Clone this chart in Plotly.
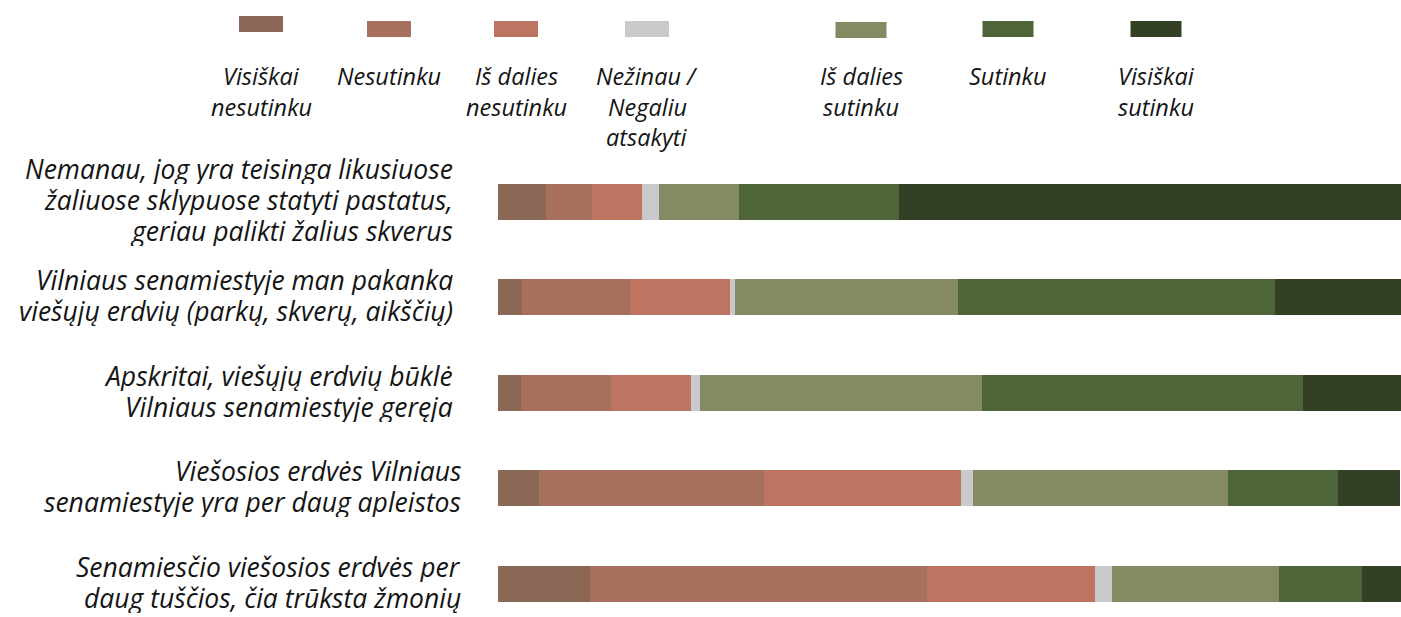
import plotly.graph_objects as go

# ---------------- data ----------------
categories = [
    "Nemanau, jog yra teisinga likusiuose<br>žaliuose sklypuose statyti pastatus,<br>geriau palikti žalius skverus",
    "Vilniaus senamiestyje man pakanka<br>viešųjų erdvių (parkų, skverų, aikščių)",
    "Apskritai, viešųjų erdvių būklė<br>Vilniaus senamiestyje geręja",
    "Viešosios erdvės Vilniaus<br>senamiestyje yra per daug apleistos",
    "Senamiesčio viešosios erdvės per<br>daug tuščios, čia trūksta žmonių",
]
series_names = [
    "Visiškai<br>nesutinku",
    "Nesutinku",
    "Iš dalies<br>nesutinku",
    "Nežinau /<br>Negaliu<br>atsakyti",
    "Iš dalies<br>sutinku",
    "Sutinku",
    "Visiškai<br>sutinku",
]
visiskai_nesutinku = [5.3, 2.7, 2.6, 4.5, 10.2]
nesutinku = [5.1, 11.9, 9.9, 25.0, 37.3]
is_dalies_nesutinku = [5.6, 11.1, 8.9, 21.8, 18.6]
nezinau = [1.8, 0.6, 1.0, 1.3, 1.9]
is_dalies_sutinku = [8.9, 24.6, 31.2, 28.2, 18.5]
sutinku = [17.7, 35.1, 35.6, 12.2, 9.2]
visiskai_sutinku = [55.7, 14.1, 10.9, 6.9, 4.4]

series_values = [visiskai_nesutinku, nesutinku, is_dalies_nesutinku, nezinau,
                 is_dalies_sutinku, sutinku, visiskai_sutinku]

# ---------------- style / layout ----------------
colors = ["#8B6756", "#A6705C", "#BD7561", "#C8C9CB", "#848A62", "#4D6538", "#334026"]
FONT = "Open Sans"
TEXT_COLOR = "#141414"
FS_LEGEND = 23.5
FS_LABEL = 26.5

W, H = 1401, 617
M_L, M_R, M_T, M_B = 498, 0, 154, 0
plot_w = W - M_L - M_R
plot_h = H - M_T - M_B


def px_x(px):
    return (px - M_L) / plot_w


def px_y(py):
    return (H - M_B - py) / plot_h


fig = go.Figure()
for name, vals, col in zip(series_names, series_values, colors):
    fig.add_trace(go.Bar(
        y=categories, x=vals, name=name.replace("<br>", " "), orientation="h",
        marker=dict(color=col, line=dict(width=0)),
        width=0.377, showlegend=False, hoverinfo="x+name",
    ))

annotations = []
shapes = []

# custom legend: swatch above centered label lines
legend_cx = [261, 389, 516, 647, 861, 1008, 1156]
legend_sw_top = [16, 21, 21, 21, 22, 21, 21]
legend_sw_w = [44, 44, 44, 44, 51, 51, 51]
legend_line_y = [75, 106, 137]
LEG_SP = 31
for name, col, cx, st, sw in zip(series_names, colors, legend_cx, legend_sw_top, legend_sw_w):
    shapes.append(dict(type="rect", xref="paper", yref="paper",
                       x0=px_x(cx - sw / 2), x1=px_x(cx + sw / 2),
                       y0=px_y(st + 16), y1=px_y(st),
                       fillcolor=col, line=dict(width=0), layer="above"))
    for i, line in enumerate(name.split("<br>")):
        annotations.append(dict(
            xref="paper", yref="paper", x=px_x(cx), y=px_y(legend_line_y[i]),
            xanchor="center", yanchor="middle", showarrow=False, text=line,
            height=LEG_SP, valign="middle",
            font=dict(family=FONT, size=FS_LEGEND, color=TEXT_COLOR, style="italic"),
        ))

# category labels, one annotation per line for matching line spacing
label_right = [455, 455, 455, 463, 463]
LINE_SP = 31
for cat, rx in zip(categories, label_right):
    lines = cat.split("<br>")
    n = len(lines)
    for i, line in enumerate(lines):
        annotations.append(dict(
            xref="paper", yref="y", x=px_x(rx), y=cat,
            yshift=((n - 1) / 2 - i) * LINE_SP + 2,
            xanchor="right", yanchor="middle", showarrow=False, text=line,
            height=LINE_SP, valign="middle",
            font=dict(family=FONT, size=FS_LABEL, color=TEXT_COLOR, style="italic"),
        ))

fig.update_layout(
    width=W, height=H,
    margin=dict(l=M_L, r=M_R, t=M_T, b=M_B, pad=0),
    barmode="stack",
    plot_bgcolor="white", paper_bgcolor="white",
    font=dict(family=FONT, size=FS_LABEL, color=TEXT_COLOR),
    xaxis=dict(range=[0, 100], visible=False, fixedrange=True),
    yaxis=dict(type="category", categoryorder="array", categoryarray=categories,
               range=[4.347, -0.5], showticklabels=False, showgrid=False,
               zeroline=False, showline=False, ticks="", fixedrange=True),
    annotations=annotations,
    shapes=shapes,
    showlegend=False,
)

fig.write_html(
    "out.html",
    config={"displayModeBar": False},
    post_script="document.body.style.margin='0';document.body.style.overflow='hidden';",
)
